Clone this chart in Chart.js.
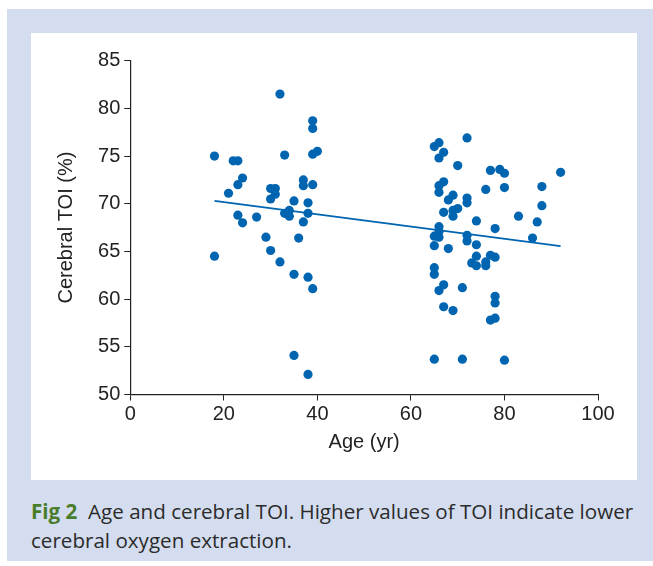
<!DOCTYPE html>
<html>
<head>
<meta charset="utf-8">
<script src="https://cdn.jsdelivr.net/npm/chart.js@4.4.0/dist/chart.umd.min.js"></script>
<style>
  body { margin: 0; background: #fff; width: 653px; height: 566px; position: relative; overflow: hidden; }
  #frame { position: absolute; left: 7px; top: 9px; width: 646px; height: 552px; background: #d4ddef; }
  #panel { position: absolute; left: 31px; top: 33px; width: 606px; height: 447px; background: #fff; }
  #caption { position: absolute; left: 31px; top: 497px; width: 622px; font-family: "Open Sans", sans-serif;
             font-size: 20.6px; line-height: 29px; color: #2b2b2b; white-space: nowrap; }
  #caption b { color: #4a7d2b; font-weight: bold; }
</style>
</head>
<body>
<div id="frame"></div>
<div id="panel"><canvas id="scatter-chart"></canvas></div>
<div id="caption"><b>Fig 2</b>&nbsp; Age and cerebral TOI. Higher values of TOI indicate lower<br>cerebral oxygen extraction.</div>
<script>
// patients: age (yr) and cerebral TOI (%)
var ages = [
  18, 18, 21, 22, 23, 23, 24, 23, 24, 27, 29, 30, 31, 30, 31, 30, 32, 32, 33, 33,
  34, 34, 35, 35, 35, 36, 37, 37, 37, 38, 38, 38, 38, 39, 39, 39, 39, 40, 39,
  66, 65, 72, 67, 66, 70, 77, 79, 80, 92, 67, 66, 66, 76, 80, 88, 69, 68, 72, 72,
  67, 70, 69, 69, 88, 74, 83, 87, 78, 66, 66, 66, 65, 72, 72, 86, 65, 68, 74, 74,
  77, 78, 73, 74, 76, 76, 65, 65, 67, 66, 71, 78, 78, 67, 69, 77, 78, 65, 71, 80
];
var toi = [
  75.0, 64.5, 71.1, 74.5, 74.5, 72.0, 72.7, 68.8, 68.0, 68.6, 66.5, 71.6, 71.6, 70.5, 71.0, 65.1, 63.9, 81.5, 75.1, 69.0,
  69.3, 68.7, 70.3, 62.6, 54.1, 66.4, 72.5, 71.9, 68.1, 70.1, 69.0, 62.3, 52.1, 72.0, 78.7, 77.9, 75.2, 75.5, 61.1,
  76.4, 76.0, 76.9, 75.4, 74.8, 74.0, 73.5, 73.6, 73.2, 73.3, 72.3, 71.9, 71.2, 71.5, 71.7, 71.8, 70.9, 70.4, 70.6, 70.1,
  69.1, 69.5, 69.3, 68.7, 69.8, 68.2, 68.7, 68.1, 67.4, 67.6, 67.1, 66.5, 66.6, 66.7, 66.1, 66.4, 65.6, 65.3, 65.7, 64.5,
  64.6, 64.4, 63.8, 63.5, 63.9, 63.5, 63.3, 62.6, 61.5, 60.9, 61.2, 60.3, 59.6, 59.2, 58.8, 57.8, 58.0, 53.7, 53.7, 53.6
];
// regression line end points
var fitAges = [18, 92];
var fitToi = [70.3, 65.55];

var xTicks = [0, 20, 40, 60, 80, 100];
var yTicks = [50, 55, 60, 65, 70, 75, 80, 85];

var blue = '#0065b1';

var points = ages.map(function (a, i) { return { x: a, y: toi[i] }; });
var fit = fitAges.map(function (a, i) { return { x: a, y: fitToi[i] }; });

var axisFont = { family: '"Liberation Sans", Arial, sans-serif', size: 20 };

new Chart(document.getElementById('scatter-chart'), {
  type: 'scatter',
  data: {
    datasets: [
      {
        data: points,
        backgroundColor: blue,
        borderWidth: 0,
        pointRadius: 4.6,
        pointHoverRadius: 4.6
      },
      {
        type: 'line',
        data: fit,
        borderColor: blue,
        borderWidth: 1.8,
        pointRadius: 0,
        fill: false
      }
    ]
  },
  options: {
    responsive: true,
    maintainAspectRatio: false,
    animation: false,
    layout: { padding: { top: 27.7, right: 39, left: 0, bottom: 0 } },
    plugins: { legend: { display: false }, tooltip: { enabled: false } },
    scales: {
      x: {
        type: 'linear',
        min: 0, max: 100,
        afterBuildTicks: function (s) { s.ticks = xTicks.map(function (v) { return { value: v }; }); },
        afterFit: function (s) { s.height = 85.5; },
        grid: { drawOnChartArea: false, tickLength: 6, color: '#222' },
        border: { color: '#222', width: 1.2 },
        ticks: { color: '#222', font: axisFont, padding: 2, maxRotation: 0 },
        title: { display: true, text: 'Age (yr)', color: '#222', font: axisFont, padding: { top: 0, bottom: 26 } }
      },
      y: {
        type: 'linear',
        min: 50, max: 85,
        afterBuildTicks: function (s) { s.ticks = yTicks.map(function (v) { return { value: v }; }); },
        afterFit: function (s) { s.width = 99.3; },
        grid: { drawOnChartArea: false, tickLength: 6, color: '#222' },
        border: { color: '#222', width: 1.2 },
        ticks: { color: '#222', font: axisFont, padding: 4 },
        title: { display: true, text: 'Cerebral TOI (%)', color: '#222', font: axisFont, padding: { top: 23, bottom: 0 } }
      }
    }
  }
});
</script>
</body>
</html>
